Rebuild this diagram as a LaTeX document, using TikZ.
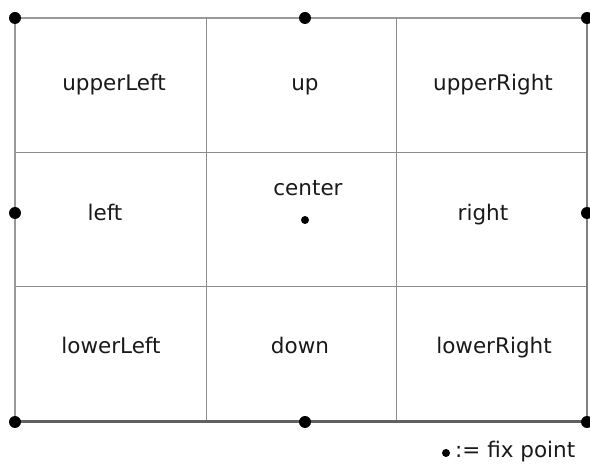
\documentclass[tikz,border=0pt]{standalone}
\usepackage{fontspec}
\setmainfont{DejaVu Sans}
\begin{document}
\begin{tikzpicture}[x=1pt,y=-1pt,
  lbl/.style={font=\fontsize{21.5}{25}\selectfont, text=black!90, inner sep=0pt, anchor=base},
  fixdot/.style={circle, fill=black, inner sep=0pt, minimum size=12pt},
  smalldot/.style={circle, fill=black, inner sep=0pt, minimum size=8pt},
  inner/.style={draw=black!45, line width=0.8pt},
  topleftborder/.style={draw=black!40, line width=1.8pt},
  bottomborder/.style={draw=black!62, line width=3pt},
  rightborder/.style={draw=black!50, line width=2.6pt}]
\useasboundingbox (0,0) rectangle (590,465);
% corners and grid coordinates
\coordinate (TL) at (15,18);
\coordinate (TR) at (587,18);
\coordinate (BL) at (15,422);
\coordinate (BR) at (587,422);
\coordinate (c1t) at (206,18);
\coordinate (c1b) at (206,422);
\coordinate (c2t) at (396,18);
\coordinate (c2b) at (396,422);
\coordinate (r1l) at (15,152);
\coordinate (r1r) at (587,152);
\coordinate (r2l) at (15,286);
\coordinate (r2r) at (587,286);
% inner lines
\draw[inner] (c1t) -- (c1b);
\draw[inner] (c2t) -- (c2b);
\draw[inner] (r1l) -- (r1r);
\draw[inner] (r2l) -- (r2r);
% borders
\draw[topleftborder] (BL) -- (TL) -- (TR);
\draw[bottomborder] (BL) -- (BR);
\draw[rightborder] (TR) -- (BR);
% labels
\node[lbl] (ul) at (114,91) {upperLeft};
\node[lbl] (u) at (305,91) {up};
\node[lbl] (ur) at (493,91) {upperRight};
\node[lbl] (l) at (105,221) {left};
\node[lbl] (c) at (308,196) {center};
\node[lbl] (r) at (483,221) {right};
\node[lbl] (ll) at (111,354) {lowerLeft};
\node[lbl] (d) at (300,354) {down};
\node[lbl] (lr) at (494,354) {lowerRight};
% fix points
\node[fixdot] (pTL) at (TL) {};
\node[fixdot] (pT) at (305,18) {};
\node[fixdot] (pTR) at (TR) {};
\node[fixdot] (pL) at (15,213) {};
\node[fixdot] (pR) at (587,213) {};
\node[fixdot] (pBL) at (BL) {};
\node[fixdot] (pB) at (305,422) {};
\node[fixdot] (pBR) at (BR) {};
\node[smalldot] (pC) at (305,220) {};
% legend
\node[smalldot] (legdot) at (446,453) {};
\node[lbl, anchor=base west] (legend) at (455,458) {:= fix point};
\end{tikzpicture}
\end{document}
